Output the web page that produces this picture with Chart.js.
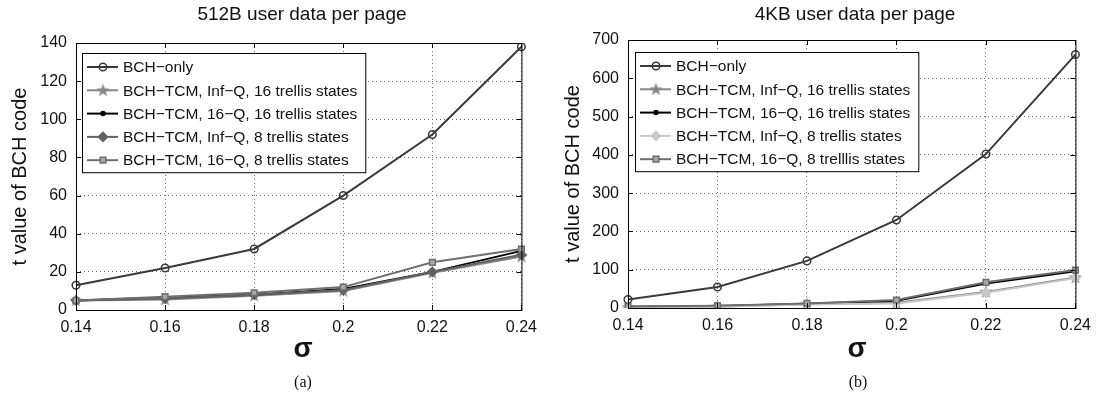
<!DOCTYPE html>
<html>
<head>
<meta charset="utf-8">
<script src="https://cdn.jsdelivr.net/npm/chart.js@4/dist/chart.umd.min.js"></script>
<style>
  body { margin: 0; background: #fff; width: 1099px; height: 399px; position: relative; overflow: hidden;
         font-family: "Liberation Sans", Arial, sans-serif; color: #111; }
  .wrap { position: absolute; top: 0; height: 340px; }
  .ttl { position: absolute; top: 3px; font-size: 19px; transform: translateX(-50%); white-space: nowrap; }
  .sig { position: absolute; top: 334px; font-size: 28px; font-weight: bold; line-height: 28px; transform: translateX(-50%); }
  .cap { position: absolute; top: 373px; font-family: "Liberation Serif", serif; font-size: 16px; transform: translateX(-50%); }
</style>
</head>
<body>
<div class="wrap" style="left:0;width:545px"><canvas id="c1"></canvas></div>
<div class="wrap" style="left:550px;width:549px"><canvas id="c2"></canvas></div>
<div class="ttl" style="left:302px">512B user data per page</div>
<div class="ttl" style="left:855px">4KB user data per page</div>
<div class="sig" style="left:303px">σ</div>
<div class="sig" style="left:857px">σ</div>
<div class="cap" style="left:303px">(a)</div>
<div class="cap" style="left:858px">(b)</div>
<script>
const sigma = ["0.14", "0.16", "0.18", "0.2", "0.22", "0.24"];

// 512B user data per page
const bchOnlyA   = [13, 22, 32, 60, 92, 138];
const infQ16A    = [5, 5.5, 7.5, 10, 19.5, 28];
const q16s16A    = [5, 6.5, 8, 11, 20, 31];
const infQ8A     = [5, 6, 8, 10.5, 20, 29];
const q16s8A     = [5, 7, 9, 12, 25, 32];
const yTicksA    = [0, 140, 20];

// 4KB user data per page
const bchOnlyB   = [22, 55, 123, 230, 402, 662];
const infQ16B    = [2, 4, 10, 14, 42, 80];
const q16s16B    = [3, 5, 11, 19, 64, 96];
const infQ8B     = [1, 3, 9, 12, 40, 78];
const q16s8B     = [4, 6, 12, 21, 67, 99];
const yTicksB    = [0, 700, 100];

const namesA = ["BCH\u2212only", "BCH\u2212TCM, Inf\u2212Q, 16 trellis states", "BCH\u2212TCM, 16\u2212Q, 16 trellis states",
                "BCH\u2212TCM, Inf\u2212Q, 8 trellis states", "BCH\u2212TCM, 16\u2212Q, 8 trellis states"];
const namesB = ["BCH\u2212only", "BCH\u2212TCM, Inf\u2212Q, 16 trellis states", "BCH\u2212TCM, 16\u2212Q, 16 trellis states",
                "BCH\u2212TCM, Inf\u2212Q, 8 trellis states", "BCH\u2212TCM, 16\u2212Q, 8 trelllis states"];

const font = "Liberation Sans, Arial, sans-serif";

// five-pointed star marker (pentagram like the original)
function starImage(color) {
  const c = document.createElement("canvas");
  c.width = 15; c.height = 15;
  const g = c.getContext("2d");
  g.beginPath();
  for (let k = 0; k < 10; k++) {
    const r = k % 2 ? 2.8 : 7;
    const a = -Math.PI / 2 + k * Math.PI / 5;
    g.lineTo(7.5 + r * Math.cos(a), 7.8 + r * Math.sin(a));
  }
  g.closePath();
  g.fillStyle = color;
  g.fill();
  return c;
}

function makeSets(names, vals, diamondColor) {
  const looks = [
    { c: "#3a3a3a", s: "circle", r: 3.8, fill: "rgba(0,0,0,0)" },
    { c: "#858585", s: starImage("#858585"), r: 7, fill: "#858585" },
    { c: "#000000", s: "circle", r: 2, fill: "#000" },
    { c: diamondColor, s: "rectRot", r: 4.5, fill: diamondColor },
    { c: "#6e6e6e", s: "rect", r: 4, fill: "#a8a8a8" },
  ];
  return vals.map((v, i) => ({
    label: names[i],
    data: v,
    borderColor: looks[i].c,
    backgroundColor: looks[i].fill,
    pointStyle: looks[i].s,
    pointRadius: looks[i].r,
    pointBorderColor: looks[i].c,
    pointBackgroundColor: looks[i].fill,
    pointBorderWidth: 1.5,
    borderWidth: 2,
    tension: 0,
    order: 5 - i,
  }));
}

// box frame with inward ticks like the original figure
const framePlugin = {
  id: "frame",
  afterDatasetsDraw(chart) {
    const { ctx, chartArea: a, scales } = chart;
    ctx.save();
    ctx.strokeStyle = "#000";
    ctx.lineWidth = 1;
    ctx.strokeRect(a.left + 0.5, a.top + 0.5, a.right - a.left, a.bottom - a.top);
    ctx.beginPath();
    scales.x.ticks.forEach((t, i) => {
      const x = Math.round(scales.x.getPixelForTick(i)) + 0.5;
      ctx.moveTo(x, a.bottom); ctx.lineTo(x, a.bottom - 5);
      ctx.moveTo(x, a.top); ctx.lineTo(x, a.top + 5);
    });
    scales.y.ticks.forEach((t, i) => {
      const y = Math.round(scales.y.getPixelForTick(i)) + 0.5;
      ctx.moveTo(a.left, y); ctx.lineTo(a.left + 5, y);
      ctx.moveTo(a.right, y); ctx.lineTo(a.right - 5, y);
    });
    ctx.stroke();
    ctx.restore();
  },
};

// legend box drawn inside the plot, top-left
const legendPlugin = {
  id: "boxLegend",
  afterDraw(chart, args, opts) {
    const { ctx, chartArea: a } = chart;
    const sets = chart.data.datasets;
    const x0 = a.left + opts.dx, y0 = a.top + opts.dy;
    const rowH = 23.3;
    ctx.save();
    ctx.font = "15.5px " + font;
    let w = 0;
    sets.forEach(d => { w = Math.max(w, ctx.measureText(d.label).width); });
    const boxW = 41 + w + 8, boxH = 14 + rowH * (sets.length - 1) + 12;
    ctx.fillStyle = "#fff";
    ctx.fillRect(x0, y0, boxW, boxH);
    ctx.strokeStyle = "#000";
    ctx.lineWidth = 1;
    ctx.strokeRect(x0 + 0.5, y0 + 0.5, boxW, boxH);
    sets.forEach((d, i) => {
      const y = y0 + 14 + i * rowH;
      ctx.strokeStyle = d.borderColor;
      ctx.lineWidth = 2;
      ctx.beginPath();
      ctx.moveTo(x0 + 5, y); ctx.lineTo(x0 + 36, y);
      ctx.stroke();
      ctx.fillStyle = d.pointBackgroundColor;
      ctx.strokeStyle = d.pointBorderColor;
      ctx.lineWidth = 1.5;
      Chart.helpers.drawPoint(ctx, { pointStyle: d.pointStyle, radius: d.pointRadius, rotation: 0, borderWidth: 1.5 },
                              x0 + 21, y);
      ctx.fillStyle = "#111";
      ctx.textBaseline = "middle";
      ctx.fillText(d.label, x0 + 41, y + 1);
    });
    ctx.restore();
  },
};

function makeChart(id, sets, yt, pad, yTitlePad) {
  return new Chart(document.getElementById(id), {
    type: "line",
    data: { labels: sigma, datasets: sets },
    plugins: [framePlugin, legendPlugin],
    options: {
      responsive: true,
      maintainAspectRatio: false,
      animation: false,
      layout: { padding: { top: pad.top, right: pad.right, left: 0, bottom: 0 } },
      plugins: {
        legend: { display: false },
        tooltip: { enabled: false },
        boxLegend: { dx: pad.ldx, dy: pad.ldy },
      },
      scales: {
        x: {
          type: "category",
          offset: false,
          grid: { color: "#6a6a6a", drawTicks: false, offset: false },
          border: { display: false, dash: [1, 3] },
          ticks: { color: "#111", padding: 8, font: { family: font, size: 16 }, maxRotation: 0, autoSkip: false },
          afterFit: s => { s.height = pad.xh; },
        },
        y: {
          min: yt[0], max: yt[1],
          grid: { color: "#6a6a6a", drawTicks: false },
          border: { display: false, dash: [1, 3] },
          ticks: { stepSize: yt[2], color: "#111", padding: 9, font: { family: font, size: 16 } },
          title: { display: true, text: "t value of BCH code", color: "#111",
                   font: { family: font, size: 20 }, padding: { top: yTitlePad, bottom: 0 } },
          afterFit: s => { s.width = pad.yw; },
        },
      },
    },
  });
}

makeChart("c1", makeSets(namesA, [bchOnlyA, infQ16A, q16s16A, infQ8A, q16s8A], "#626262"), yTicksA,
          { top: 43, right: 16, xh: 30, yw: 76, ldx: 6, ldy: 10 }, 8);
makeChart("c2", makeSets(namesB, [bchOnlyB, infQ16B, q16s16B, infQ8B, q16s8B], "#c8c8c8"), yTicksB,
          { top: 40, right: 16, xh: 32, yw: 78, ldx: 7, ldy: 12 }, 11);
</script>
</body>
</html>
